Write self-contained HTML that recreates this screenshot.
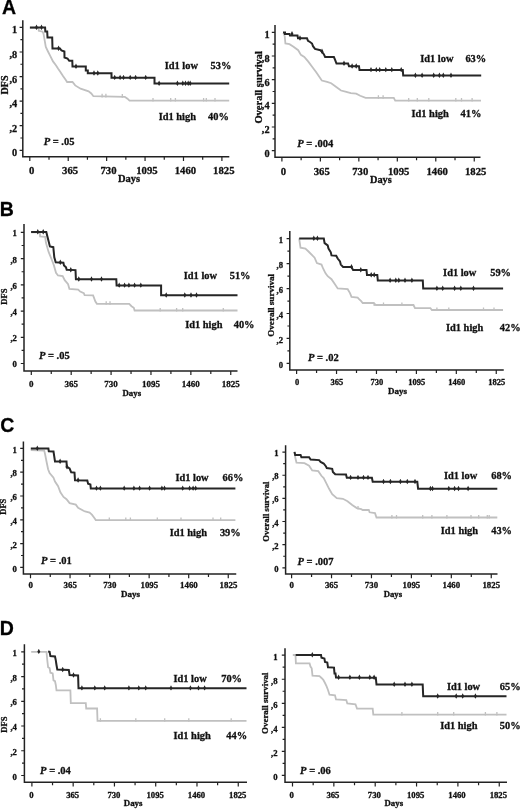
<!DOCTYPE html>
<html><head><meta charset="utf-8"><title>Id1 Kaplan-Meier</title>
<style>
html,body{margin:0;padding:0;background:#fff;}
body{width:520px;height:809px;overflow:hidden;}
svg{display:block;will-change:transform;}
text{font-family:"Liberation Serif",serif;font-weight:bold;fill:#111;stroke:#111;stroke-width:0.3px;}
.ss{font-family:"Liberation Sans",sans-serif;fill:#000;}
</style></head><body>
<svg width="520" height="809" viewBox="0 0 520 809">
<rect width="520" height="809" fill="#fff"/>
<g id="AL">
<path d="M22.8 20.2V156.7H229.3" fill="none" stroke="#222" stroke-width="1.5"/>
<path d="M19.6 150.3H22.8M20.4 138.01H22.8M19.6 125.72H22.8M20.4 113.43H22.8M19.6 101.14H22.8M20.4 88.85H22.8M19.6 76.56H22.8M20.4 64.27H22.8M19.6 51.98H22.8M20.4 39.69H22.8M19.6 27.4H22.8M29.8 156.7V160.9M49.01 156.7V159.7M68.22 156.7V160.9M87.43 156.7V159.7M106.64 156.7V160.9M125.85 156.7V159.7M145.06 156.7V160.9M164.27 156.7V159.7M183.48 156.7V160.9M202.69 156.7V159.7M221.9 156.7V160.9" stroke="#222" stroke-width="1.2" fill="none"/>
<text x="17.2" y="156.3" text-anchor="end" font-size="10.3">0</text>
<text x="17.2" y="131.72" text-anchor="end" font-size="10.3">,2</text>
<text x="17.2" y="107.14" text-anchor="end" font-size="10.3">,4</text>
<text x="17.2" y="82.56" text-anchor="end" font-size="10.3">,6</text>
<text x="17.2" y="57.98" text-anchor="end" font-size="10.3">,8</text>
<text x="17.2" y="33.4" text-anchor="end" font-size="10.3">1</text>
<text x="31.7" y="174" text-anchor="middle" font-size="10.7">0</text>
<text x="70.12" y="174" text-anchor="middle" font-size="10.7">365</text>
<text x="108.54" y="174" text-anchor="middle" font-size="10.7">730</text>
<text x="146.96" y="174" text-anchor="middle" font-size="10.7">1095</text>
<text x="185.38" y="174" text-anchor="middle" font-size="10.7">1460</text>
<text x="223.8" y="174" text-anchor="middle" font-size="10.7">1825</text>
<text x="118" y="182.3" font-size="10.5">Days</text>
<text transform="translate(7.9 85) rotate(-90)" text-anchor="middle" font-size="10">DFS</text>
<polyline points="29.9,28.2 38.6,28.2 38.8,30.8 42.4,31.6 43.5,33.5 45.8,47 48,51.5 50.1,55.7 53,61.4 55.9,65.3 58,68.5 60.4,71.9 63,76 65.8,80 67.1,82 72.5,82 75.2,85.4 80.6,88.7 88.6,91.4 91.3,93.5 93.4,96.2 124.8,96.8 127.5,98.7 129.5,100.6 229.2,100.6" fill="none" stroke="#c0c0c0" stroke-width="1.8"/>
<polyline points="29.9,27.6 45.1,27.6 45.3,31.5 47.2,31.5 47.5,37.4 52.2,37.4 52.5,48.6 60,48.6 61.5,50.5 64.4,51.5 64.5,57.5 67.5,58.5 69.2,60.8 72.3,60.8 72.5,66.6 85.8,66.6 85.8,70.5 87.8,70.5 87.8,73.3 111.5,73.3 111.5,77.7 154.5,77.7 154.5,83.6 229.2,83.6" fill="none" stroke="#262626" stroke-width="2.0"/>
<path d="M36.5 24.6l1.5 3l-1.5 2.4l-1.5 -2.4zM41.5 24.6l1.5 3l-1.5 2.4l-1.5 -2.4zM58.6 45.6l1.5 3l-1.5 2.4l-1.5 -2.4zM76 63.6l1.5 3l-1.5 2.4l-1.5 -2.4zM94 70.3l1.5 3l-1.5 2.4l-1.5 -2.4zM97.8 70.3l1.5 3l-1.5 2.4l-1.5 -2.4zM114.7 74.7l1.5 3l-1.5 2.4l-1.5 -2.4zM120.1 74.7l1.5 3l-1.5 2.4l-1.5 -2.4zM123.5 74.7l1.5 3l-1.5 2.4l-1.5 -2.4zM130.2 74.7l1.5 3l-1.5 2.4l-1.5 -2.4zM135.6 74.7l1.5 3l-1.5 2.4l-1.5 -2.4zM145.7 74.7l1.5 3l-1.5 2.4l-1.5 -2.4zM159.1 80.6l1.5 3l-1.5 2.4l-1.5 -2.4zM177.4 80.6l1.5 3l-1.5 2.4l-1.5 -2.4zM182.8 80.6l1.5 3l-1.5 2.4l-1.5 -2.4zM185.5 80.6l1.5 3l-1.5 2.4l-1.5 -2.4zM188.2 80.6l1.5 3l-1.5 2.4l-1.5 -2.4zM190.2 80.6l1.5 3l-1.5 2.4l-1.5 -2.4z" fill="#262626"/>
<path d="M102.1 93.8v3.6M105.9 93.8v3.6M122.3 94.1v3.6M153 98v3.6M170.7 98v3.6M175.4 98v3.6M203.6 98v3.6M206.3 98v3.6M215 98v3.6" stroke="#c0c0c0" stroke-width="1.3" fill="none"/>
<text x="43.7" y="145.2" font-size="10.5"><tspan font-style="italic">P</tspan> = .05</text>
<text x="164.7" y="68.7" font-size="10.4">Id1 low</text>
<text x="210.6" y="68.7" font-size="10.4">53%</text>
<text x="158.7" y="120" font-size="10.4">Id1 high</text>
<text x="208" y="120" font-size="10.4">40%</text>
<text x="2" y="13.8" font-size="19.5" class="ss">A</text>
</g>
<g id="AR">
<path d="M275 25V157.3H480.5" fill="none" stroke="#222" stroke-width="1.5"/>
<path d="M271.8 150.7H275M272.6 138.86H275M271.8 127.02H275M272.6 115.18H275M271.8 103.34H275M272.6 91.5H275M271.8 79.66H275M272.6 67.82H275M271.8 55.98H275M272.6 44.14H275M271.8 32.3H275M281.9 157.3V161.5M301.13 157.3V160.3M320.37 157.3V161.5M339.6 157.3V160.3M358.84 157.3V161.5M378.07 157.3V160.3M397.31 157.3V161.5M416.55 157.3V160.3M435.78 157.3V161.5M455.01 157.3V160.3M474.25 157.3V161.5" stroke="#222" stroke-width="1.2" fill="none"/>
<text x="269.6" y="156.8" text-anchor="end" font-size="10.3">0</text>
<text x="269.6" y="133.12" text-anchor="end" font-size="10.3">,2</text>
<text x="269.6" y="109.44" text-anchor="end" font-size="10.3">,4</text>
<text x="269.6" y="85.76" text-anchor="end" font-size="10.3">,6</text>
<text x="269.6" y="62.08" text-anchor="end" font-size="10.3">,8</text>
<text x="269.6" y="38.4" text-anchor="end" font-size="10.3">1</text>
<text x="283.3" y="174.5" text-anchor="middle" font-size="10.7">0</text>
<text x="321.77" y="174.5" text-anchor="middle" font-size="10.7">365</text>
<text x="360.24" y="174.5" text-anchor="middle" font-size="10.7">730</text>
<text x="398.71" y="174.5" text-anchor="middle" font-size="10.7">1095</text>
<text x="437.18" y="174.5" text-anchor="middle" font-size="10.7">1460</text>
<text x="475.65" y="174.5" text-anchor="middle" font-size="10.7">1825</text>
<text x="370" y="182.5" font-size="10.3">Days</text>
<text transform="translate(261.7 87.3) rotate(-90)" text-anchor="middle" font-size="10.5">Overall survival</text>
<polyline points="283.4,32.7 284.7,36.1 285.4,43.5 289.5,44.2 293.5,46.8 298.2,50.2 300.9,54.9 304.3,56.9 308.3,61.6 312.3,67 316.4,72.4 321.8,80.5 327.1,81.8 331.2,83.2 336.6,87.2 341,90.5 345.4,91.7 350.8,93.1 356.2,93.7 360.2,95.8 365.6,97.8 393.8,97.8 395.2,100.6 481,100.6" fill="none" stroke="#c0c0c0" stroke-width="1.8"/>
<polyline points="283,32.6 285,32.6 285,33.9 289.5,33.9 290,35.6 297.5,35.6 298,38.3 307,38.3 308,40.8 310,42 312,43.5 313,46.2 315,48.9 320.4,50.2 321.8,51.6 323.8,54.2 325.1,57 333.9,57 335,59.6 336.5,63.6 348.1,63.6 349,66.3 359,66.3 359.5,69.9 402.8,69.9 403.2,75.5 481.2,75.5" fill="none" stroke="#262626" stroke-width="2.0"/>
<path d="M292 30.9l1.5 3l-1.5 2.4l-1.5 -2.4zM300 35.3l1.5 3l-1.5 2.4l-1.5 -2.4zM322 48.6l1.5 3l-1.5 2.4l-1.5 -2.4zM344 60.6l1.5 3l-1.5 2.4l-1.5 -2.4zM352.1 63.3l1.5 3l-1.5 2.4l-1.5 -2.4zM356.2 63.3l1.5 3l-1.5 2.4l-1.5 -2.4zM371 66.9l1.5 3l-1.5 2.4l-1.5 -2.4zM376.3 66.9l1.5 3l-1.5 2.4l-1.5 -2.4zM379.7 66.9l1.5 3l-1.5 2.4l-1.5 -2.4zM385.8 66.9l1.5 3l-1.5 2.4l-1.5 -2.4zM391.8 66.9l1.5 3l-1.5 2.4l-1.5 -2.4zM401.2 66.9l1.5 3l-1.5 2.4l-1.5 -2.4zM415.4 72.5l1.5 3l-1.5 2.4l-1.5 -2.4zM422.1 72.5l1.5 3l-1.5 2.4l-1.5 -2.4zM433.7 72.5l1.5 3l-1.5 2.4l-1.5 -2.4zM439.4 72.5l1.5 3l-1.5 2.4l-1.5 -2.4zM443.3 72.5l1.5 3l-1.5 2.4l-1.5 -2.4zM451 72.5l1.5 3l-1.5 2.4l-1.5 -2.4z" fill="#262626"/>
<path d="M378.4 95.2v3.6M383.1 95.2v3.6M408.7 98v3.6M417.3 98v3.6M428.8 98v3.6M455.8 98v3.6M461.5 98v3.6M472.1 98v3.6" stroke="#c0c0c0" stroke-width="1.3" fill="none"/>
<text x="297.2" y="146.7" font-size="10.5"><tspan font-style="italic">P</tspan> = .004</text>
<text x="420.2" y="61.5" font-size="10.4">Id1 low</text>
<text x="465.4" y="61.5" font-size="10.4">63%</text>
<text x="411.5" y="117" font-size="10.4">Id1 high</text>
<text x="460.6" y="117" font-size="10.4">41%</text>
</g>
<g id="BL">
<path d="M24 224.1V370.9H237.5" fill="none" stroke="#222" stroke-width="1.5"/>
<path d="M20.8 363.5H24M21.6 350.39H24M20.8 337.28H24M21.6 324.17H24M20.8 311.06H24M21.6 297.95H24M20.8 284.84H24M21.6 271.73H24M20.8 258.62H24M21.6 245.51H24M20.8 232.4H24M31.3 370.9V375.1M51.25 370.9V373.9M71.19 370.9V375.1M91.13 370.9V373.9M111.08 370.9V375.1M131.03 370.9V373.9M150.97 370.9V375.1M170.91 370.9V373.9M190.86 370.9V375.1M210.81 370.9V373.9M230.75 370.9V375.1" stroke="#222" stroke-width="1.2" fill="none"/>
<text x="16.9" y="367.4" text-anchor="end" font-size="8.7">0</text>
<text x="16.9" y="341.18" text-anchor="end" font-size="8.7">,2</text>
<text x="16.9" y="314.96" text-anchor="end" font-size="8.7">,4</text>
<text x="16.9" y="288.74" text-anchor="end" font-size="8.7">,6</text>
<text x="16.9" y="262.52" text-anchor="end" font-size="8.7">,8</text>
<text x="16.9" y="236.3" text-anchor="end" font-size="8.7">1</text>
<text x="31.3" y="386.8" text-anchor="middle" font-size="9">0</text>
<text x="71.19" y="386.8" text-anchor="middle" font-size="9">365</text>
<text x="111.08" y="386.8" text-anchor="middle" font-size="9">730</text>
<text x="150.97" y="386.8" text-anchor="middle" font-size="9">1095</text>
<text x="190.86" y="386.8" text-anchor="middle" font-size="9">1460</text>
<text x="230.75" y="386.8" text-anchor="middle" font-size="9">1825</text>
<text x="122.5" y="396.25" font-size="8.8">Days</text>
<text transform="translate(6.9 296.5) rotate(-90)" text-anchor="middle" font-size="8.6">DFS</text>
<polyline points="31.1,232.4 39.8,232.4 40.1,236.4 45.2,236.8 45.9,242.5 48.6,251.9 51.9,260 53.9,265.4 56,272.8 58,275.5 62.7,276.1 64.7,280.2 68.1,284.2 69.4,288.9 78.2,289.6 80.2,291.6 83.8,293.1 84.6,295.1 93.1,295.4 95.4,301.5 96.9,303.8 129.2,303.8 131.5,306.2 133.8,307.7 134.6,310.5 237.5,310.5" fill="none" stroke="#c0c0c0" stroke-width="1.8"/>
<polyline points="31.1,232 46.3,232 47.2,235.8 48.6,241.2 49.9,246.5 53.3,247.2 54.3,257.3 55.7,262.3 63.4,262.7 64,265.4 66,267.4 66.7,269.8 75.5,270.1 75.9,279.3 116.3,279.3 116.6,285.4 161.1,285.4 161.1,295.3 237.5,295.3" fill="none" stroke="#262626" stroke-width="2.0"/>
<path d="M37.8 229l1.5 3l-1.5 2.4l-1.5 -2.4zM43.2 229l1.5 3l-1.5 2.4l-1.5 -2.4zM60.3 259.5l1.5 3l-1.5 2.4l-1.5 -2.4zM70.8 267l1.5 3l-1.5 2.4l-1.5 -2.4zM78.8 276.3l1.5 3l-1.5 2.4l-1.5 -2.4zM91.5 276.3l1.5 3l-1.5 2.4l-1.5 -2.4zM101.5 276.3l1.5 3l-1.5 2.4l-1.5 -2.4zM119.2 282.4l1.5 3l-1.5 2.4l-1.5 -2.4zM124.6 282.4l1.5 3l-1.5 2.4l-1.5 -2.4zM128.9 282.4l1.5 3l-1.5 2.4l-1.5 -2.4zM134.6 282.4l1.5 3l-1.5 2.4l-1.5 -2.4zM140.8 282.4l1.5 3l-1.5 2.4l-1.5 -2.4zM166.2 292.3l1.5 3l-1.5 2.4l-1.5 -2.4zM184.8 292.3l1.5 3l-1.5 2.4l-1.5 -2.4zM191 292.3l1.5 3l-1.5 2.4l-1.5 -2.4zM196.5 292.3l1.5 3l-1.5 2.4l-1.5 -2.4z" fill="#262626"/>
<path d="M106.2 301.2v3.6M110 301.2v3.6M160.2 307.9v3.6M176.6 307.9v3.6M182.7 307.9v3.6M223.3 307.9v3.6" stroke="#c0c0c0" stroke-width="1.3" fill="none"/>
<text x="38.9" y="358.8" font-size="10.5"><tspan font-style="italic">P</tspan> = .05</text>
<text x="183.8" y="279" font-size="10.4">Id1 low</text>
<text x="229.7" y="279" font-size="10.4">51%</text>
<text x="185.2" y="327.5" font-size="10.4">Id1 high</text>
<text x="233.7" y="327.5" font-size="10.4">40%</text>
<text x="-0.25" y="216" font-size="19.5" class="ss">B</text>
</g>
<g id="BR">
<path d="M289.8 231.1V369.9H503.75" fill="none" stroke="#222" stroke-width="1.5"/>
<path d="M286.6 363.4H289.8M287.4 350.93H289.8M286.6 338.46H289.8M287.4 325.99H289.8M286.6 313.52H289.8M287.4 301.05H289.8M286.6 288.58H289.8M287.4 276.11H289.8M286.6 263.64H289.8M287.4 251.17H289.8M286.6 238.7H289.8M296.6 369.9V374.1M316.56 369.9V372.9M336.53 369.9V374.1M356.5 369.9V372.9M376.46 369.9V374.1M396.43 369.9V372.9M416.39 369.9V374.1M436.36 369.9V372.9M456.32 369.9V374.1M476.29 369.9V372.9M496.25 369.9V374.1" stroke="#222" stroke-width="1.2" fill="none"/>
<text x="283" y="367.6" text-anchor="end" font-size="8.6">0</text>
<text x="283" y="342.66" text-anchor="end" font-size="8.6">,2</text>
<text x="283" y="317.72" text-anchor="end" font-size="8.6">,4</text>
<text x="283" y="292.78" text-anchor="end" font-size="8.6">,6</text>
<text x="283" y="267.84" text-anchor="end" font-size="8.6">,8</text>
<text x="283" y="242.9" text-anchor="end" font-size="8.6">1</text>
<text x="297" y="385" text-anchor="middle" font-size="8.5">0</text>
<text x="336.93" y="385" text-anchor="middle" font-size="8.5">365</text>
<text x="376.86" y="385" text-anchor="middle" font-size="8.5">730</text>
<text x="416.79" y="385" text-anchor="middle" font-size="8.5">1095</text>
<text x="456.72" y="385" text-anchor="middle" font-size="8.5">1460</text>
<text x="496.65" y="385" text-anchor="middle" font-size="8.5">1825</text>
<text x="388" y="393.75" font-size="9">Days</text>
<text transform="translate(273.9 305.3) rotate(-90)" text-anchor="middle" font-size="9.1">Overall survival</text>
<polyline points="299.2,238.5 299.5,240.8 300.5,247.7 305.4,248.5 308.5,251.5 314.6,257.7 316.9,263.1 321.5,264.6 323.1,268.5 325.4,273.1 327.7,276.2 331.5,279.2 334.6,283.8 337.7,288.5 347.7,289.2 350,293.1 351.5,296.9 357.7,297.7 358.8,298.8 361.2,301.2 362.7,303 373.5,303 375.8,305 413.5,305 415,308.1 430.4,308.1 431.9,310 503,310" fill="none" stroke="#c0c0c0" stroke-width="1.8"/>
<polyline points="299.2,238.5 323.8,238.5 324.6,243.1 327.7,245.4 328.5,248.5 330.8,252.3 331.5,255.4 336.2,255.8 337.7,258.5 340,261.5 340.8,264.6 343.1,266.9 351.5,266.9 353.1,270.1 366.5,270.1 367,275 377.3,275 377.8,280.5 422.8,280.5 423.2,288.5 503.1,288.5" fill="none" stroke="#262626" stroke-width="2.0"/>
<path d="M313.8 235.5l1.5 3l-1.5 2.4l-1.5 -2.4zM317.4 235.5l1.5 3l-1.5 2.4l-1.5 -2.4zM351.5 263.9l1.5 3l-1.5 2.4l-1.5 -2.4zM360.8 267.1l1.5 3l-1.5 2.4l-1.5 -2.4zM371.2 272l1.5 3l-1.5 2.4l-1.5 -2.4zM374.2 272l1.5 3l-1.5 2.4l-1.5 -2.4zM390.1 277.5l1.5 3l-1.5 2.4l-1.5 -2.4zM395.8 277.5l1.5 3l-1.5 2.4l-1.5 -2.4zM398.8 277.5l1.5 3l-1.5 2.4l-1.5 -2.4zM405 277.5l1.5 3l-1.5 2.4l-1.5 -2.4zM411.9 277.5l1.5 3l-1.5 2.4l-1.5 -2.4zM436.9 285.5l1.5 3l-1.5 2.4l-1.5 -2.4zM442.7 285.5l1.5 3l-1.5 2.4l-1.5 -2.4zM454.6 285.5l1.5 3l-1.5 2.4l-1.5 -2.4zM460.8 285.5l1.5 3l-1.5 2.4l-1.5 -2.4zM473.5 285.5l1.5 3l-1.5 2.4l-1.5 -2.4z" fill="#262626"/>
<path d="M374.2 302.4v3.6M383.5 302.4v3.6M401.9 302.4v3.6M436.9 307.4v3.6M448.8 307.4v3.6M483.5 307.4v3.6M494 307.4v3.6" stroke="#c0c0c0" stroke-width="1.3" fill="none"/>
<text x="307.9" y="360.8" font-size="10.5"><tspan font-style="italic">P</tspan> = .02</text>
<text x="443.1" y="275.8" font-size="10.4">Id1 low</text>
<text x="490.2" y="275.8" font-size="10.4">59%</text>
<text x="446" y="330.8" font-size="10.4">Id1 high</text>
<text x="499.8" y="330.8" font-size="10.4">42%</text>
</g>
<g id="CL">
<path d="M23.4 441.5V574H236.25" fill="none" stroke="#222" stroke-width="1.5"/>
<path d="M20.2 567.4H23.4M21 555.5H23.4M20.2 543.6H23.4M21 531.7H23.4M20.2 519.8H23.4M21 507.9H23.4M20.2 496H23.4M21 484.1H23.4M20.2 472.2H23.4M21 460.3H23.4M20.2 448.4H23.4M30.5 574V578.2M50.27 574V577M70.05 574V578.2M89.83 574V577M109.6 574V578.2M129.38 574V577M149.15 574V578.2M168.93 574V577M188.7 574V578.2M208.47 574V577M228.25 574V578.2" stroke="#222" stroke-width="1.2" fill="none"/>
<text x="16.9" y="571.5" text-anchor="end" font-size="8.7">0</text>
<text x="16.9" y="547.7" text-anchor="end" font-size="8.7">,2</text>
<text x="16.9" y="523.9" text-anchor="end" font-size="8.7">,4</text>
<text x="16.9" y="500.1" text-anchor="end" font-size="8.7">,6</text>
<text x="16.9" y="476.3" text-anchor="end" font-size="8.7">,8</text>
<text x="16.9" y="452.5" text-anchor="end" font-size="8.7">1</text>
<text x="30.7" y="588.2" text-anchor="middle" font-size="8.9">0</text>
<text x="70.25" y="588.2" text-anchor="middle" font-size="8.9">365</text>
<text x="109.8" y="588.2" text-anchor="middle" font-size="8.9">730</text>
<text x="149.35" y="588.2" text-anchor="middle" font-size="8.9">1095</text>
<text x="188.9" y="588.2" text-anchor="middle" font-size="8.9">1460</text>
<text x="228.45" y="588.2" text-anchor="middle" font-size="8.9">1825</text>
<text x="121" y="597" font-size="9">Days</text>
<text transform="translate(6.1 506.7) rotate(-90)" text-anchor="middle" font-size="8.5">DFS</text>
<polyline points="30.8,450 44.2,450.5 45,453.8 46.5,461.5 48.1,469.2 49.6,473.1 53.5,477.7 55,481.5 58.1,486.2 60.4,492.3 63.5,496.9 66.5,499.2 69.6,503.1 75.8,504.6 78.1,507.7 83.5,510.8 85,511.5 89.6,512.5 91.9,514.6 94.2,517.7 95.8,520.1 235.4,520.1" fill="none" stroke="#c0c0c0" stroke-width="1.8"/>
<polyline points="30.8,448.5 48.4,448.5 48.8,451.3 53.5,451.5 54.2,456.2 55,461.5 66.5,461.5 66.8,466.9 69.6,468.5 71.2,472.3 74.5,472.6 75,480.2 87.3,480.4 88.1,483.8 90.4,484.6 90.8,488.4 235.4,488.4" fill="none" stroke="#262626" stroke-width="2.0"/>
<path d="M37.3 445.5l1.5 3l-1.5 2.4l-1.5 -2.4zM60.1 458.5l1.5 3l-1.5 2.4l-1.5 -2.4zM67 464l1.5 3l-1.5 2.4l-1.5 -2.4zM78.1 477.3l1.5 3l-1.5 2.4l-1.5 -2.4zM96.5 485.4l1.5 3l-1.5 2.4l-1.5 -2.4zM100.4 485.4l1.5 3l-1.5 2.4l-1.5 -2.4zM124.2 485.4l1.5 3l-1.5 2.4l-1.5 -2.4zM133.9 485.4l1.5 3l-1.5 2.4l-1.5 -2.4zM139.6 485.4l1.5 3l-1.5 2.4l-1.5 -2.4zM149.6 485.4l1.5 3l-1.5 2.4l-1.5 -2.4zM161.9 485.4l1.5 3l-1.5 2.4l-1.5 -2.4zM164.5 485.4l1.5 3l-1.5 2.4l-1.5 -2.4zM182.7 485.4l1.5 3l-1.5 2.4l-1.5 -2.4zM189.6 485.4l1.5 3l-1.5 2.4l-1.5 -2.4zM193.1 485.4l1.5 3l-1.5 2.4l-1.5 -2.4zM195.7 485.4l1.5 3l-1.5 2.4l-1.5 -2.4z" fill="#262626"/>
<path d="M109.3 517.5v3.6M125.8 517.5v3.6M130.4 517.5v3.6M157.3 517.5v3.6M181 517.5v3.6M213 517.5v3.6M220.7 517.5v3.6" stroke="#c0c0c0" stroke-width="1.3" fill="none"/>
<text x="41" y="564" font-size="10.5"><tspan font-style="italic">P</tspan> = .01</text>
<text x="175.4" y="480.8" font-size="10.4">Id1 low</text>
<text x="222.5" y="480.8" font-size="10.4">66%</text>
<text x="169.7" y="536.1" font-size="10.4">Id1 high</text>
<text x="219.9" y="536.1" font-size="10.4">39%</text>
<text x="0.3" y="431.6" font-size="19.5" class="ss">C</text>
</g>
<g id="CR">
<path d="M285.6 445.2V574H497.5" fill="none" stroke="#222" stroke-width="1.5"/>
<path d="M282.4 567.8H285.6M283.2 556.23H285.6M282.4 544.66H285.6M283.2 533.09H285.6M282.4 521.52H285.6M283.2 509.95H285.6M282.4 498.38H285.6M283.2 486.81H285.6M282.4 475.24H285.6M283.2 463.67H285.6M282.4 452.1H285.6M291.6 574V578.2M311.56 574V577M331.53 574V578.2M351.5 574V577M371.46 574V578.2M391.43 574V577M411.39 574V578.2M431.36 574V577M451.32 574V578.2M471.29 574V577M491.25 574V578.2" stroke="#222" stroke-width="1.2" fill="none"/>
<text x="278.6" y="571.9" text-anchor="end" font-size="8.6">0</text>
<text x="278.6" y="548.76" text-anchor="end" font-size="8.6">,2</text>
<text x="278.6" y="525.62" text-anchor="end" font-size="8.6">,4</text>
<text x="278.6" y="502.48" text-anchor="end" font-size="8.6">,6</text>
<text x="278.6" y="479.34" text-anchor="end" font-size="8.6">,8</text>
<text x="278.6" y="456.2" text-anchor="end" font-size="8.6">1</text>
<text x="291.6" y="588.25" text-anchor="middle" font-size="8.8">0</text>
<text x="331.53" y="588.25" text-anchor="middle" font-size="8.8">365</text>
<text x="371.46" y="588.25" text-anchor="middle" font-size="8.8">730</text>
<text x="411.39" y="588.25" text-anchor="middle" font-size="8.8">1095</text>
<text x="451.32" y="588.25" text-anchor="middle" font-size="8.8">1460</text>
<text x="491.25" y="588.25" text-anchor="middle" font-size="8.8">1825</text>
<text x="383.7" y="597" font-size="8.7">Days</text>
<text transform="translate(269 511.6) rotate(-90)" text-anchor="middle" font-size="8.7">Overall survival</text>
<polyline points="294.5,451.9 295.2,457.3 296.5,462.7 304.5,463.2 309.1,465.8 312.2,470.4 318.3,471.2 321.4,475.8 323.7,478.1 326,482.7 329.1,488.8 332.2,494.2 336.8,498.1 342.9,498.8 347.5,501.2 352.2,505 356.8,508.1 361.2,509.2 362.7,510 368.8,510 369.6,512.3 375,513.1 376.5,517.5 497.3,517.5" fill="none" stroke="#c0c0c0" stroke-width="1.8"/>
<polyline points="294.5,451.9 295.2,455 300.6,455 301.4,457.3 309.1,457.3 310.6,459.6 319.1,460.1 320.6,461.9 323.7,463.5 326,466.5 326.8,468.1 332.2,468.8 332.9,471.9 335.2,474.2 346,474.5 346.8,477.7 371.9,477.7 372.7,481.8 417.3,481.8 418.1,488.8 497.3,488.8" fill="none" stroke="#262626" stroke-width="2.0"/>
<path d="M350.6 474.7l1.5 3l-1.5 2.4l-1.5 -2.4zM358 474.7l1.5 3l-1.5 2.4l-1.5 -2.4zM363.5 474.7l1.5 3l-1.5 2.4l-1.5 -2.4zM368 474.7l1.5 3l-1.5 2.4l-1.5 -2.4zM383.5 478.8l1.5 3l-1.5 2.4l-1.5 -2.4zM390.4 478.8l1.5 3l-1.5 2.4l-1.5 -2.4zM400.4 478.8l1.5 3l-1.5 2.4l-1.5 -2.4zM407.3 478.8l1.5 3l-1.5 2.4l-1.5 -2.4zM415 478.8l1.5 3l-1.5 2.4l-1.5 -2.4zM430.4 485.8l1.5 3l-1.5 2.4l-1.5 -2.4zM432.5 485.8l1.5 3l-1.5 2.4l-1.5 -2.4zM448.8 485.8l1.5 3l-1.5 2.4l-1.5 -2.4zM454.6 485.8l1.5 3l-1.5 2.4l-1.5 -2.4zM458.5 485.8l1.5 3l-1.5 2.4l-1.5 -2.4zM468.1 485.8l1.5 3l-1.5 2.4l-1.5 -2.4z" fill="#262626"/>
<path d="M358 505.9v3.6M391.9 514.9v3.6M396.5 514.9v3.6M422.7 514.9v3.6M431.9 514.9v3.6M446.9 514.9v3.6M471 514.9v3.6M478.7 514.9v3.6M487.3 514.9v3.6M489.2 514.9v3.6" stroke="#c0c0c0" stroke-width="1.3" fill="none"/>
<text x="297.5" y="564.6" font-size="10.5"><tspan font-style="italic">P</tspan> = .007</text>
<text x="444" y="479.2" font-size="10.4">Id1 low</text>
<text x="491.2" y="479.2" font-size="10.4">68%</text>
<text x="440.8" y="534" font-size="10.4">Id1 high</text>
<text x="491.2" y="534" font-size="10.4">43%</text>
</g>
<g id="DL">
<path d="M24.4 644.3V782.3H247" fill="none" stroke="#222" stroke-width="1.5"/>
<path d="M21.2 775.5H24.4M22 763.13H24.4M21.2 750.76H24.4M22 738.39H24.4M21.2 726.02H24.4M22 713.65H24.4M21.2 701.28H24.4M22 688.91H24.4M21.2 676.54H24.4M22 664.17H24.4M21.2 651.8H24.4M31.9 782.3V786.5M52.53 782.3V785.3M73.17 782.3V786.5M93.8 782.3V785.3M114.44 782.3V786.5M135.07 782.3V785.3M155.71 782.3V786.5M176.34 782.3V785.3M196.98 782.3V786.5M217.61 782.3V785.3M238.25 782.3V786.5" stroke="#222" stroke-width="1.2" fill="none"/>
<text x="16.9" y="779.7" text-anchor="end" font-size="8.7">0</text>
<text x="16.9" y="754.96" text-anchor="end" font-size="8.7">,2</text>
<text x="16.9" y="730.22" text-anchor="end" font-size="8.7">,4</text>
<text x="16.9" y="705.48" text-anchor="end" font-size="8.7">,6</text>
<text x="16.9" y="680.74" text-anchor="end" font-size="8.7">,8</text>
<text x="16.9" y="656" text-anchor="end" font-size="8.7">1</text>
<text x="31.4" y="797.5" text-anchor="middle" font-size="8.7">0</text>
<text x="72.67" y="797.5" text-anchor="middle" font-size="8.7">365</text>
<text x="113.94" y="797.5" text-anchor="middle" font-size="8.7">730</text>
<text x="155.21" y="797.5" text-anchor="middle" font-size="8.7">1095</text>
<text x="196.48" y="797.5" text-anchor="middle" font-size="8.7">1460</text>
<text x="237.75" y="797.5" text-anchor="middle" font-size="8.7">1825</text>
<text x="123.75" y="805.75" font-size="8.9">Days</text>
<text transform="translate(7.2 724.7) rotate(-90)" text-anchor="middle" font-size="8.6">DFS</text>
<polyline points="31.2,651.9 46.5,651.9 47.3,660.4 48.1,667.3 49.6,668.1 50.4,672.7 52.7,673.5 53.5,680.4 55,681.2 55.8,685 56.5,690.4 70.4,690.4 70.8,703.2 85.8,703.2 86.2,708.5 97.1,708.5 97.5,720.8 246.5,720.8" fill="none" stroke="#c0c0c0" stroke-width="1.8"/>
<polyline points="48.1,651.5 49.6,651.9 50.4,656.1 55,656.5 55.8,660.4 56.5,665 57.3,669.6 68.8,669.9 69.6,675 78.1,675.5 78.5,688.2 246.5,688.2" fill="none" stroke="#262626" stroke-width="2.0"/>
<path d="M38.8 648.7l1.5 3l-1.5 2.4l-1.5 -2.4zM62.7 666.8l1.5 3l-1.5 2.4l-1.5 -2.4zM73.5 672.3l1.5 3l-1.5 2.4l-1.5 -2.4zM81.9 685.2l1.5 3l-1.5 2.4l-1.5 -2.4zM94.8 685.2l1.5 3l-1.5 2.4l-1.5 -2.4zM104.7 685.2l1.5 3l-1.5 2.4l-1.5 -2.4zM128.9 685.2l1.5 3l-1.5 2.4l-1.5 -2.4zM138.8 685.2l1.5 3l-1.5 2.4l-1.5 -2.4zM145.7 685.2l1.5 3l-1.5 2.4l-1.5 -2.4zM171 685.2l1.5 3l-1.5 2.4l-1.5 -2.4zM190.4 685.2l1.5 3l-1.5 2.4l-1.5 -2.4zM198.5 685.2l1.5 3l-1.5 2.4l-1.5 -2.4zM204.6 685.2l1.5 3l-1.5 2.4l-1.5 -2.4z" fill="#262626"/>
<path d="M100.4 718.2v3.6M135.8 718.2v3.6M164.7 718.2v3.6M188.8 718.2v3.6M231.2 718.2v3.6" stroke="#c0c0c0" stroke-width="1.3" fill="none"/>
<text x="40.1" y="773.6" font-size="10.5"><tspan font-style="italic">P</tspan> = .04</text>
<text x="173.5" y="681.5" font-size="10.4">Id1 low</text>
<text x="221.2" y="681.5" font-size="10.4">70%</text>
<text x="173.5" y="739.2" font-size="10.4">Id1 high</text>
<text x="226.3" y="739.2" font-size="10.4">44%</text>
<text x="-0.2" y="634.5" font-size="19.5" class="ss">D</text>
</g>
<g id="DR">
<path d="M285 648.2V782.2H507" fill="none" stroke="#222" stroke-width="1.5"/>
<path d="M281.8 775.4H285M282.6 763.38H285M281.8 751.36H285M282.6 739.34H285M281.8 727.32H285M282.6 715.3H285M281.8 703.28H285M282.6 691.26H285M281.8 679.24H285M282.6 667.22H285M281.8 655.2H285M292.5 782.2V786.4M313.18 782.2V785.2M333.85 782.2V786.4M354.52 782.2V785.2M375.2 782.2V786.4M395.88 782.2V785.2M416.55 782.2V786.4M437.23 782.2V785.2M457.9 782.2V786.4M478.57 782.2V785.2M499.25 782.2V786.4" stroke="#222" stroke-width="1.2" fill="none"/>
<text x="277.6" y="779.7" text-anchor="end" font-size="8.7">0</text>
<text x="277.6" y="755.66" text-anchor="end" font-size="8.7">,2</text>
<text x="277.6" y="731.62" text-anchor="end" font-size="8.7">,4</text>
<text x="277.6" y="707.58" text-anchor="end" font-size="8.7">,6</text>
<text x="277.6" y="683.54" text-anchor="end" font-size="8.7">,8</text>
<text x="277.6" y="659.5" text-anchor="end" font-size="8.7">1</text>
<text x="291.6" y="797.5" text-anchor="middle" font-size="8.7">0</text>
<text x="332.95" y="797.5" text-anchor="middle" font-size="8.7">365</text>
<text x="374.3" y="797.5" text-anchor="middle" font-size="8.7">730</text>
<text x="415.65" y="797.5" text-anchor="middle" font-size="8.7">1095</text>
<text x="457" y="797.5" text-anchor="middle" font-size="8.7">1460</text>
<text x="498.35" y="797.5" text-anchor="middle" font-size="8.7">1825</text>
<text x="384.5" y="806.25" font-size="8.8">Days</text>
<text transform="translate(267.5 703.2) rotate(-90)" text-anchor="middle" font-size="8.9">Overall survival</text>
<polyline points="292.8,655 295.5,655 295.9,663.4 309.6,663.4 310.5,666.5 311.7,668.3 312.5,675.7 319.5,676.2 321.5,678 323.3,679.9 325,683 326.5,686.2 328,690 329.5,694.7 335,695.3 336,699.5 346.3,700 347.3,703.5 355.5,704.3 357,708.5 372.7,708.7 373.3,714.6 506.5,714.6" fill="none" stroke="#c0c0c0" stroke-width="1.8"/>
<polyline points="295.7,655 321,655 321.5,657.7 324.4,658.5 325,661.9 327.3,662.5 328,667.3 334,667.6 334.5,673.5 335.5,673.5 336,677.5 375.8,677.7 376.5,684.6 422.7,684.6 423.2,696.3 506.5,696.3" fill="none" stroke="#262626" stroke-width="2.0"/>
<path d="M312.3 652l1.5 3l-1.5 2.4l-1.5 -2.4zM338.6 674.6l1.5 3l-1.5 2.4l-1.5 -2.4zM349.9 674.6l1.5 3l-1.5 2.4l-1.5 -2.4zM359.4 674.6l1.5 3l-1.5 2.4l-1.5 -2.4zM369.8 674.6l1.5 3l-1.5 2.4l-1.5 -2.4zM374.1 674.6l1.5 3l-1.5 2.4l-1.5 -2.4zM394.2 681.6l1.5 3l-1.5 2.4l-1.5 -2.4zM405 681.6l1.5 3l-1.5 2.4l-1.5 -2.4zM411.9 681.6l1.5 3l-1.5 2.4l-1.5 -2.4zM437.7 693.3l1.5 3l-1.5 2.4l-1.5 -2.4zM456.2 693.3l1.5 3l-1.5 2.4l-1.5 -2.4zM462.7 693.3l1.5 3l-1.5 2.4l-1.5 -2.4zM475.4 693.3l1.5 3l-1.5 2.4l-1.5 -2.4z" fill="#262626"/>
<path d="M401.9 712v3.6M437.7 712v3.6M453.7 712v3.6M485.4 712v3.6M496.9 712v3.6" stroke="#c0c0c0" stroke-width="1.3" fill="none"/>
<text x="300.1" y="774.4" font-size="10.5"><tspan font-style="italic">P</tspan> = .06</text>
<text x="446.9" y="690.4" font-size="10.4">Id1 low</text>
<text x="499.8" y="690.4" font-size="10.4">65%</text>
<text x="440.2" y="729.4" font-size="10.4">Id1 high</text>
<text x="499.8" y="729.4" font-size="10.4">50%</text>
</g>
</svg>
</body></html>
